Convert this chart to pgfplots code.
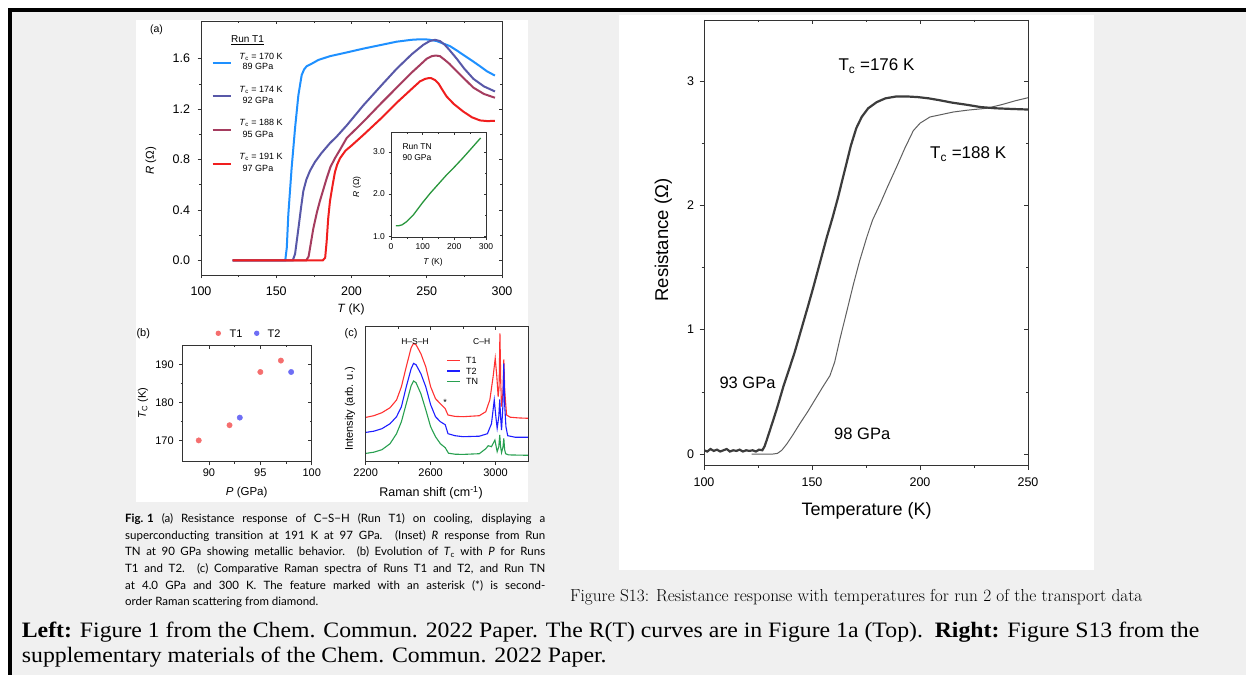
\documentclass[border=0pt]{standalone}
\usepackage{fontspec}
\usepackage{pgfplots}
\pgfplotsset{compat=1.18}
\newfontfamily\arial{Liberation Sans}
\newfontfamily\tnr{Liberation Serif}
\newfontfamily\capf{Lato}
\newcommand\fA[1]{\arial\fontsize{#1}{#1}\selectfont}
\definecolor{bgg}{RGB}{240,240,240}
\definecolor{cA1}{RGB}{30,144,255}
\definecolor{cA2}{RGB}{88,88,168}
\definecolor{cA3}{RGB}{165,60,95}
\definecolor{cA4}{RGB}{240,30,30}
\definecolor{cIn}{RGB}{40,150,60}
\definecolor{cB1}{RGB}{245,110,110}
\definecolor{cB2}{RGB}{110,110,245}
\definecolor{cC1}{RGB}{255,50,50}
\definecolor{cC2}{RGB}{30,30,255}
\definecolor{cC3}{RGB}{40,160,80}
\definecolor{cR1}{RGB}{60,60,60}
\definecolor{cR2}{RGB}{95,95,95}
\pgfplotsset{
 myax/.style={scale only axis, axis line style={line width=0.7pt, black!80}, every tick/.style={black!80, line width=0.6pt}, major tick length=3.5pt, minor tick length=2pt, tick align=outside, xtick pos=left, ytick pos=left, /pgf/number format/assume math mode=true},
 myaxmirror/.style={scale only axis, axis line style={line width=0.7pt, black!80}, every tick/.style={black!80, line width=0.6pt}, major tick length=3.5pt, minor tick length=2pt, tick align=inside, xtick pos=right, ytick pos=right, xticklabel style={opacity=0}, yticklabel style={opacity=0}},
 panA/.style={at={(201pt,400pt)}, anchor=south west, width=301pt, height=254.1pt, xmin=100, xmax=300, ymin=-0.117, ymax=1.9, xtick={100,150,200,250,300}, ytick={0,0.4,0.8,1.2,1.6}, minor x tick num=1, minor y tick num=1},
 panI/.style={at={(391pt,437.5pt)}, anchor=south west, width=95pt, height=105pt, xmin=0, xmax=300, ymin=0.97, ymax=3.46, xtick={0,100,200,300}, ytick={1,2,3}, minor x tick num=1, minor y tick num=1, major tick length=2.5pt, minor tick length=1.5pt},
 panB/.style={at={(182.7pt,213.3pt)}, anchor=south west, width=129pt, height=116.7pt, xmin=87.44, xmax=100, ymin=164.4, ymax=195.1, xtick={90,95,100}, ytick={170,180,190}, minor x tick num=1, minor y tick num=1},
 panC/.style={at={(365.7pt,213.3pt)}, anchor=south west, width=162.3pt, height=135pt, xmin=2200, xmax=3200, ymin=0, ymax=135, xtick={2200,2600,3000}, ytick=\empty, minor x tick num=1, xticklabel style={/pgf/number format/set thousands separator={}}},
 panR/.style={at={(704pt,209.8pt)}, anchor=south west, width=324pt, height=445.2pt, xmin=100, xmax=250, ymin=-0.09, ymax=3.49, xtick={100,150,200,250}, ytick={0,1,2,3}, minor x tick num=1, minor y tick num=1, major tick length=4.5pt, minor tick length=2.5pt},
}
\begin{document}
\begin{tikzpicture}[x=1pt,y=1pt,font=\arial]
\useasboundingbox (0,0) rectangle (1246,675);
\fill[white] (0,0) rectangle (1246,675);
\fill[bgg] (11.7,0) rectangle (1246,663.3);
\fill[black] (8.3,663.3) rectangle (1246,666.7);
\fill[black] (8.3,0) rectangle (11.7,666.7);
\fill[white] (136,173) rectangle (528,655);
\fill[white] (619,105) rectangle (1094,660);

% ---------- panel (a)
\begin{axis}[myax, panA, tick label style={font=\fA{12.5}}, xticklabel style={yshift=-5pt}, yticklabel style={xshift=-4pt, /pgf/number format/.cd, fixed, fixed zerofill, precision=1}]
\addplot[cA1, line width=2pt] coordinates {(121,0)(150,0)(156,0.0)(157,0.1)(158,0.36)(160.2,0.73)(162.5,1.05)(164.7,1.31)(166.9,1.47)(168.5,1.515)(170.2,1.54)(173.5,1.56)(178,1.59)(185.7,1.62)(197,1.65)(207.9,1.68)(220,1.71)(230,1.735)(240,1.75)(245.5,1.754)(251,1.752)(256.6,1.74)(261,1.72)(265.4,1.70)(270,1.665)(274.3,1.63)(280,1.585)(285.4,1.54)(290,1.50)(295.3,1.466)};
\addplot[cA2, line width=2pt] coordinates {(121,0)(161,0)(162.5,0.05)(164.7,0.25)(166.5,0.42)(168,0.55)(170,0.64)(172.4,0.71)(175.7,0.78)(180,0.85)(185.7,0.93)(190,0.98)(196.8,1.07)(207.9,1.23)(220,1.39)(230,1.52)(240,1.635)(247.7,1.71)(252,1.74)(255.5,1.75)(258.8,1.74)(262,1.71)(265,1.67)(269.9,1.60)(275,1.52)(281,1.44)(288,1.38)(295.3,1.34)};
\addplot[cA3, line width=2pt] coordinates {(121,0)(170,0)(171.5,0.03)(174.6,0.25)(177,0.38)(179,0.47)(183.5,0.65)(186,0.74)(189,0.81)(192,0.87)(196.8,0.97)(207.9,1.10)(220,1.25)(230,1.37)(240,1.49)(245.5,1.55)(250,1.60)(253.3,1.62)(256,1.625)(258.8,1.62)(262,1.59)(265,1.56)(269.9,1.50)(275,1.44)(281,1.37)(288,1.32)(295.3,1.29)};
\addplot[cA4, line width=2pt] coordinates {(121,0)(181,0)(182.5,0.02)(183.5,0.15)(184.5,0.33)(185.7,0.47)(187.5,0.60)(189,0.70)(190.5,0.76)(192.4,0.81)(196,0.87)(200,0.91)(207.9,0.995)(220,1.13)(230,1.25)(240,1.36)(245.5,1.42)(249,1.44)(251,1.445)(253,1.445)(255.5,1.43)(258,1.40)(260,1.36)(263.2,1.30)(268,1.24)(274.3,1.18)(280,1.135)(285.4,1.11)(290,1.105)(295.3,1.106)};
\end{axis}
\begin{axis}[myaxmirror, panA]\end{axis}
\node[font=\fA{10.5}] at (156.5,645) {(a)};
\node[font=\fA{11.5}, rotate=90] at (151,514) {\textit{R} (Ω)};
\node[font=\fA{12}] at (351,366) {\textit{T} (K)};
\node[font=\fA{10}] at (247.5,635) {\underline{Run T1}};
\draw[cA1, line width=2pt] (212.7,612.3) -- (230.7,612.3);
\draw[cA2, line width=2pt] (212.7,579) -- (230.7,579);
\draw[cA3, line width=2pt] (212.7,544.7) -- (230.7,544.7);
\draw[cA4, line width=2pt] (212.7,510.7) -- (230.7,510.7);
\begin{scope}[every node/.style={font=\fA{9}}]
\node at (261,618.3) {\textit{T}\textsubscript{c} = 170 K};
\node at (258,608.3) {89 GPa};
\node at (261,585.3) {\textit{T}\textsubscript{c} = 174 K};
\node at (258,575) {92 GPa};
\node at (261,551.7) {\textit{T}\textsubscript{c} = 188 K};
\node at (258,541) {95 GPa};
\node at (261,517.7) {\textit{T}\textsubscript{c} = 191 K};
\node at (258,506.7) {97 GPa};
\end{scope}

% ---------- inset
\fill[white] (391,437.5) rectangle (486,542.5);
\begin{axis}[myax, panI, tick label style={font=\fA{8.5}}, yticklabel style={/pgf/number format/.cd, fixed, fixed zerofill, precision=1}]
\addplot[cIn, line width=1.3pt] coordinates {(15,1.25)(25,1.25)(35,1.27)(50,1.35)(70,1.5)(85,1.65)(100,1.8)(125,2.03)(150,2.24)(175,2.45)(200,2.64)(225,2.84)(250,3.05)(270,3.22)(283,3.33)};
\end{axis}
\begin{axis}[myaxmirror, panI]\end{axis}
\node[font=\fA{8.5}, anchor=west] at (399,528) {Run TN};
\node[font=\fA{8.5}, anchor=west] at (399,517) {90 GPa};
\node[font=\fA{8.5}, rotate=90] at (357,488) {\textit{R} (Ω)};
\node[font=\fA{8.5}] at (433,413) {\textit{T} (K)};

% ---------- panel (b)
\begin{axis}[myax, panB, tick label style={font=\fA{11}}, yticklabel style={xshift=-2pt}]
\addplot[only marks, mark=*, mark size=2.7pt, color=cB1, mark options={draw=none, fill=cB1}] coordinates {(89,170)(92,174)(95,188)(97,191)};
\addplot[only marks, mark=*, mark size=2.7pt, color=cB2, mark options={draw=none, fill=cB2}] coordinates {(93,176)(98,188)};
\end{axis}
\begin{axis}[myaxmirror, panB]\end{axis}
\node[font=\fA{11}] at (143.3,341.7) {(b)};
\fill[cB1] (218.3,341.7) circle (2.7);
\node[font=\fA{11}, anchor=west] at (226,341.7) {T1};
\fill[cB2] (256.7,341.7) circle (2.7);
\node[font=\fA{11}, anchor=west] at (264,341.7) {T2};
\node[font=\fA{11}, rotate=90] at (143,272) {\textit{T}\textsubscript{C} (K)};
\node[font=\fA{11.5}] at (246.7,182.5) {\textit{P} (GPa)};

% ---------- panel (c)
\begin{axis}[myax, panC, tick label style={font=\fA{11}}]
\addplot[cC1, line width=1.1pt] coordinates {(2200,44.3)(2250,46)(2300,49)(2350,54)(2390,61.7)(2420,75)(2450,95)(2480,114)(2495,118.3)(2510,117)(2540,108)(2570,95)(2600,75)(2630,63)(2660,58)(2690,53)(2707,46.7)(2750,45.3)(2800,45)(2900,46)(2940,50)(2965,62)(2985,85)(2998,103.4)(3008,85)(3016,65)(3022,75)(3027,128.4)(3032,80)(3037,55)(3046,70)(3051,102.4)(3057,70)(3068,46.7)(3090,44.5)(3140,43.8)(3200,43.4)};
\addplot[cC2, line width=1.1pt] coordinates {(2200,29.3)(2250,30.5)(2300,33)(2350,38)(2390,45)(2420,55)(2450,75)(2480,93)(2495,98.3)(2510,97)(2540,88)(2570,75)(2600,57)(2630,45)(2660,40)(2690,37)(2707,28)(2750,26)(2800,25)(2900,25.5)(2950,28)(2975,38)(2992,61.7)(3002,45)(3010,33.4)(3020,45)(3026,62.4)(3031,45)(3037,31.7)(3045,55)(3051,98.4)(3057,55)(3064,35)(3075,26)(3120,24.5)(3200,24.4)};
\addplot[cC3, line width=1.1pt] coordinates {(2200,8.3)(2250,9.5)(2300,12)(2350,18)(2390,28)(2420,40)(2450,58)(2480,76)(2495,80.7)(2510,79)(2540,68)(2570,52)(2600,35)(2630,25)(2660,18)(2690,14)(2710,8.5)(2750,7.5)(2800,7.3)(2900,8)(2940,13)(2955,16)(2975,15)(2996,21.7)(3010,10)(3020,15)(3026,26.7)(3031,15)(3037,9)(3046,15)(3051,23.4)(3056,12)(3062,8)(3080,6.8)(3200,6.4)};
\end{axis}
\begin{axis}[myaxmirror, panC]\end{axis}
\node[font=\fA{11}] at (351,341.7) {(c)};
\node[font=\fA{11}, rotate=90] at (350,266) {Intensity (arb. u.)};
\node[font=\fA{12.5}] at (431,182.3) {Raman shift (cm\textsuperscript{-1})};
\node[font=\fA{8.5}] at (415,333.3) {H–S–H};
\node[font=\fA{8.5}] at (481.7,333.3) {C–H};
\node[font=\fA{9}] at (445,273) {*};
\draw[cC1, line width=1.1pt] (447.3,314.3) -- (460,314.3);
\draw[cC2, line width=1.1pt] (447.3,304) -- (460,304);
\draw[cC3, line width=1.1pt] (447.3,293.7) -- (460,293.7);
\node[font=\fA{9}, anchor=west] at (462.5,314.3) {T1};
\node[font=\fA{9}, anchor=west] at (462.5,304) {T2};
\node[font=\fA{9}, anchor=west] at (462.5,293.7) {TN};

% ---------- Fig. 1 caption
\begin{scope}[every node/.style={anchor=base west, inner sep=0pt, font=\capf\fontsize{11.5}{12}\selectfont}]
\node at (125,153) {\hbox to 420pt{\mbox{\textbf{Fig. 1}}\hspace{8pt}(a) Resistance response of C−S−H (Run T1) on cooling, displaying a}};
\node at (125,136) {\hbox to 420pt{superconducting transition at 191 K at 97 GPa. (Inset) \textit{R} response from Run}};
\node at (125,119.5) {\hbox to 420pt{TN at 90 GPa showing metallic behavior. (b) Evolution of \textit{T}\textsubscript{c} with \textit{P} for Runs}};
\node at (125,103) {\hbox to 420pt{T1 and T2. (c) Comparative Raman spectra of Runs T1 and T2, and Run TN}};
\node at (125,86) {\hbox to 420pt{at 4.0 GPa and 300 K. The feature marked with an asterisk (*) is second-}};
\node at (125,69.5) {order Raman scattering from diamond.};
\end{scope}

% ---------- right panel
\begin{axis}[myax, panR, tick label style={font=\fA{12.5}}, xticklabel style={yshift=-5pt}, yticklabel style={xshift=-2pt}]
\addplot[cR2, line width=1pt] coordinates {(122,0.0)(128,0.0)(132,0.0)(134,0.005)(136,0.03)(138.3,0.08)(141,0.15)(144.4,0.245)(148,0.34)(152.2,0.46)(155,0.54)(158.3,0.63)(160.5,0.74)(163,0.93)(166,1.14)(169.1,1.36)(172,1.55)(175.3,1.74)(178,1.88)(181.5,2.01)(185,2.15)(189.2,2.31)(193,2.46)(196.9,2.60)(200,2.66)(204.6,2.71)(210,2.73)(215.4,2.75)(222,2.765)(230.8,2.78)(238,2.81)(244,2.84)(250,2.865)};
\addplot[cR1, line width=2.2pt] coordinates {(100,0.03)(101.5,0.02)(103,0.04)(104.5,0.025)(106,0.035)(107.5,0.02)(109,0.03)(110.5,0.04)(112,0.02)(113.5,0.03)(115,0.025)(116.5,0.035)(118,0.02)(119.5,0.03)(121,0.025)(122.5,0.03)(124,0.02)(125.5,0.035)(127,0.03)(128,0.06)(129,0.11)(130.5,0.19)(132,0.27)(134,0.38)(136.7,0.54)(139,0.66)(142,0.82)(145,1.0)(148,1.18)(150.6,1.34)(153.7,1.54)(156.8,1.74)(159.5,1.9)(162,2.06)(165,2.27)(168,2.48)(170.5,2.62)(173,2.71)(176,2.78)(180,2.83)(184,2.86)(189,2.875)(194,2.875)(199,2.87)(204,2.86)(209,2.845)(215,2.825)(221,2.81)(228,2.79)(235,2.78)(242,2.775)(250,2.77)};
\end{axis}
\begin{axis}[myaxmirror, panR]\end{axis}
\node[font=\fA{17}, anchor=west] at (835,609) {T\textsubscript{c} =176 K};
\node[font=\fA{17}, anchor=west] at (926.7,521) {T\textsubscript{c} =188 K};
\node[font=\fA{16.5}, anchor=west] at (716,292) {93 GPa};
\node[font=\fA{16.5}, anchor=west] at (830.7,241.5) {98 GPa};
\node[font=\fA{18}] at (866.7,164) {Temperature (K)};
\node[font=\fA{18.5}, rotate=90] at (663.3,435) {Resistance (Ω)};
\node[anchor=base west, inner sep=0pt, font=\rmfamily\fontsize{17.3}{19}\selectfont] at (570,74) {Figure S13: Resistance response with temperatures for run 2 of the transport data};

% ---------- bottom caption
\node[anchor=base west, inner sep=0pt, font=\tnr\fontsize{22}{24}\selectfont] at (21.7,38) {\scalebox{1.08}[1]{\textbf{Left:} Figure 1 from the Chem. Commun. 2022 Paper. The R(T) curves are in Figure 1a (Top).\ \ \textbf{Right:} Figure S13 from the}};
\node[anchor=base west, inner sep=0pt, font=\tnr\fontsize{22}{24}\selectfont] at (21.7,13) {\scalebox{1.08}[1]{supplementary materials of the Chem. Commun. 2022 Paper.}};
\end{tikzpicture}
\end{document}
